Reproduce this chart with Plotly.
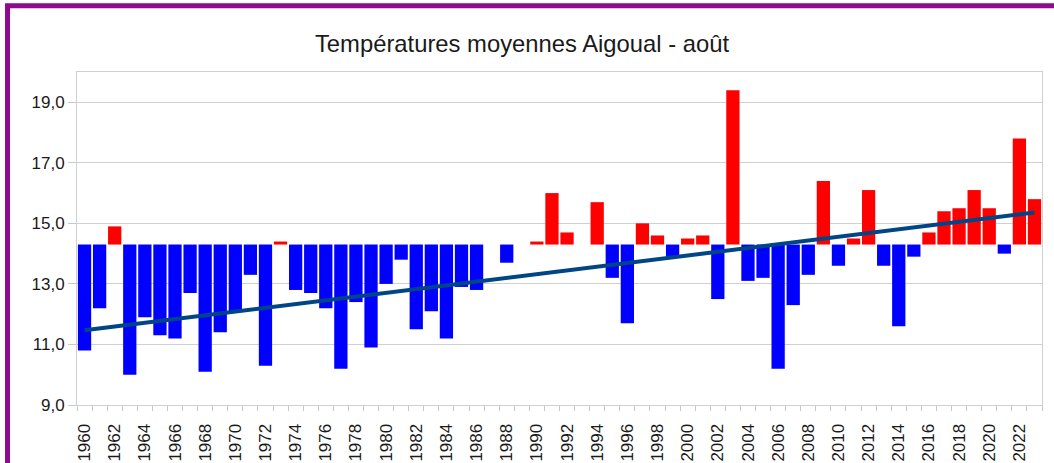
import numpy as np
import plotly.graph_objects as go

years = list(range(1960, 2024))
temps = [
    10.8, 12.2, 14.9, 10.0, 11.9, 11.3, 11.2, 12.7, 10.1, 11.4,  # 1960-1969
    12.1, 13.3, 10.3, 14.4, 12.8, 12.7, 12.2, 10.2, 12.4, 10.9,  # 1970-1979
    13.0, 13.8, 11.5, 12.1, 11.2, 12.9, 12.8, 14.3, 13.7, 14.3,  # 1980-1989
    14.4, 16.0, 14.7, 14.3, 15.7, 13.2, 11.7, 15.0, 14.6, 13.9,  # 1990-1999
    14.5, 14.6, 12.5, 19.4, 13.1, 13.2, 10.2, 12.3, 13.3, 16.4,  # 2000-2009
    13.6, 14.5, 16.1, 13.6, 11.6, 13.9, 14.7, 15.4, 15.5, 16.1,  # 2010-2019
    15.5, 14.0, 17.8, 15.8,                                      # 2020-2023
]
baseline = 14.3
tick_years = list(range(1960, 2024, 2))
tick_labels = [str(y) for y in tick_years]
title_text = "Températures moyennes Aigoual - août"

RED = "#ff0000"
BLUE = "#0000ff"
TREND = "#004586"
GRID = "#d0d0d0"
FONT = "Liberation Sans"

deltas = [t - baseline for t in temps]
colors = [RED if t > baseline else BLUE for t in temps]

# linear trend line (least squares on the data)
slope, intercept = np.polyfit(years, temps, 1)
trend = [slope * y + intercept for y in years]

fig = go.Figure()
fig.add_trace(go.Bar(
    x=years, y=deltas, base=baseline,
    marker=dict(color=colors, line=dict(width=0)),
    showlegend=False, hoverinfo="skip",
))
fig.add_trace(go.Scatter(
    x=[years[0], years[-1]], y=[trend[0], trend[-1]],
    mode="lines", line=dict(color=TREND, width=4),
    showlegend=False, hoverinfo="skip",
))

L, R, T, B = 77, 11.5, 71.5, 57.5
W, H = 1054, 463
plot_w = W - L - R
plot_h = H - T - B

def px_to_paper_x(px):
    return (px - L) / plot_w

def px_to_paper_y(py):
    return 1 + (T - py) / plot_h

fig.update_layout(
    width=W, height=H,
    margin=dict(l=L, r=R, t=T, b=B, pad=0, autoexpand=False),
    paper_bgcolor="white", plot_bgcolor="white",
    separators=", ",
    bargap=0.12,
    font=dict(family=FONT, size=17, color="#1a1a1a"),
    title=dict(
        text=title_text, x=522 / W, xanchor="center",
        y=1 - 44 / H, yanchor="middle", yref="container",
        font=dict(family=FONT, size=23.8, color="#1a1a1a"),
    ),
    xaxis=dict(
        range=[1959.5, 2023.5],
        tickmode="array", tickvals=tick_years, ticktext=tick_labels,
        tickangle=-90,
        ticks="outside", ticklen=5, tickcolor="rgba(0,0,0,0)",
        ticklabelstandoff=6,
        minor=dict(tickmode="array",
                   tickvals=[y - 0.5 for y in years] + [years[-1] + 0.5],
                   ticks="outside", ticklen=5, tickcolor="#c8c8c8",
                   showgrid=False),
        showgrid=False, zeroline=False,
        showline=True, linecolor=GRID, linewidth=1, mirror=True,
        tickfont=dict(family=FONT, size=17, color="#1a1a1a"),
    ),
    yaxis=dict(
        range=[9, 20], tick0=9, dtick=2, tickformat=".1f",
        ticks="outside", ticklen=8, tickcolor="#c8c8c8",
        showgrid=True, gridcolor=GRID, gridwidth=1,
        zeroline=False,
        showline=True, linecolor=GRID, linewidth=1, mirror=True,
        tickfont=dict(family=FONT, size=17, color="#1a1a1a"),
    ),
    shapes=[dict(
        type="rect", xref="paper", yref="paper",
        x0=px_to_paper_x(7.5), x1=px_to_paper_x(W + 20),
        y0=px_to_paper_y(H + 20), y1=px_to_paper_y(5),
        line=dict(color="#8e0a8e", width=5), fillcolor="rgba(0,0,0,0)",
        layer="above",
    )],
)

fig.write_html(
    "out.html",
    config={"displayModeBar": False},
    post_script="document.body.style.margin='0';document.body.style.overflow='hidden';",
)
